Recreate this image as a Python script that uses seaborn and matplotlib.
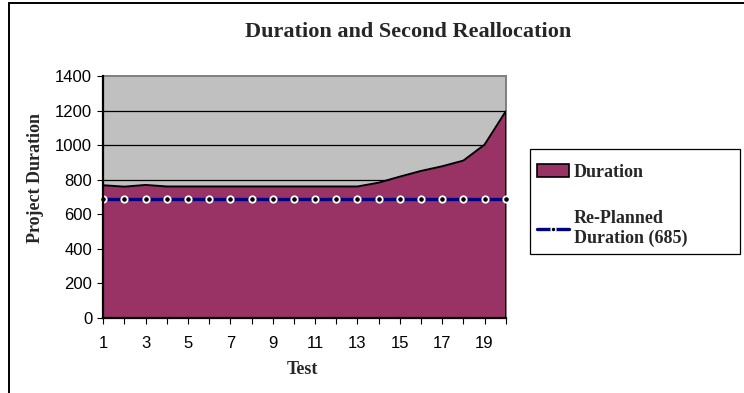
import matplotlib
matplotlib.use("Agg")
import matplotlib.pyplot as plt
from matplotlib.lines import Line2D
from matplotlib.patches import Patch, Rectangle
import seaborn as sns
import pandas as pd

# Series
tests = list(range(1, 21))
duration = [767, 759, 769, 760, 760, 760, 760, 760, 760, 760, 760, 760, 760,
            782, 817, 850, 877, 910, 1002, 1195]
replanned = [685] * 20
yticks = [0, 200, 400, 600, 800, 1000, 1200, 1400]

df = pd.DataFrame({"Test": tests, "Duration": duration, "Replanned": replanned})

sns.set_style("white")
plt.rcParams["font.family"] = ["Liberation Sans", "DejaVu Sans"]

W, H = 744, 393
fig = plt.figure(figsize=(W / 100, H / 100), dpi=100)
ax = fig.add_axes([103.3 / W, 1 - 317.7 / H, (505.7 - 103.3) / W, (317.7 - 76) / H])
ax.set_facecolor("#C0C0C0")

# Horizontal gridlines
for v in yticks[1:-1]:
    ax.axhline(v, color="black", lw=0.9, zorder=1)

# Duration area
ax.fill_between(df["Test"], 0, df["Duration"], color="#993366", lw=0, zorder=2)
sns.lineplot(data=df, x="Test", y="Duration", ax=ax, color="black", lw=1.4, zorder=3)
ax.vlines(tests[-1], 0, duration[-1], color="black", lw=1.4, zorder=3)

# Re-planned duration line with markers
sns.lineplot(data=df, x="Test", y="Replanned", ax=ax, color="#000080", lw=2.4,
             marker="o", markersize=4.6, markerfacecolor="black",
             markeredgecolor="white", markeredgewidth=1.3, zorder=5, clip_on=False)

ax.set_xlim(1, 20)
ax.set_ylim(0, 1400)
ax.set_yticks(yticks)
ax.set_xticks(tests)
ax.set_xticklabels([str(t) if t % 2 == 1 else "" for t in tests])
ax.tick_params(axis="both", direction="out", length=4, width=0.8, color="black",
               labelsize=12, labelcolor="black", bottom=True, left=True)
ax.tick_params(axis="x", pad=9)
ax.tick_params(axis="y", pad=4)
ax.set_xlabel("")
ax.set_ylabel("")

for side in ["left", "bottom"]:
    ax.spines[side].set_color("black")
    ax.spines[side].set_linewidth(1.6)
    ax.spines[side].set_zorder(6)
for side in ["top", "right"]:
    ax.spines[side].set_visible(True)
    ax.spines[side].set_color("#808080")
    ax.spines[side].set_linewidth(1.4)

serif = ["Liberation Serif", "DejaVu Serif"]
fig.text(302 / W, 1 - 370 / H, "Test", family=serif, fontweight="bold",
         fontsize=13, ha="center", va="center")
fig.text(36 / W, 1 - 178 / H, "Project Duration", family=serif, fontweight="bold",
         fontsize=13, ha="center", va="center", rotation=90)
fig.text(408 / W, 1 - 32 / H, "Duration and Second Reallocation", family=serif,
         fontweight="bold", fontsize=16, ha="center", va="center")

# Legend
fig.add_artist(Rectangle((530 / W, 1 - 254 / H), 210 / W, 105 / H, transform=fig.transFigure,
                         facecolor="white", edgecolor="black", lw=0.9, zorder=3))
handles = [
    Patch(facecolor="#993366", edgecolor="black", lw=1.2),
    Line2D([0], [0], color="#000080", lw=2.4, marker="o", markersize=3.5,
           markerfacecolor="black", markeredgecolor="white", markeredgewidth=1.0),
]
leg = fig.legend(handles, ["Duration", "Re-Planned\nDuration (685)"],
                 loc="upper left", bbox_to_anchor=(537 / W, 1 - 164 / H),
                 prop={"family": serif, "weight": "bold", "size": 13},
                 frameon=False, borderpad=0, labelspacing=1.6, handlelength=1.75,
                 handletextpad=0.28, borderaxespad=0)
leg.set_zorder(4)

# Chart frame
fig.add_artist(Line2D([9 / W, 9 / W], [0, 1 - 2.5 / H], color="black", lw=1.4))
fig.add_artist(Line2D([9 / W, 1], [1 - 2.5 / H, 1 - 2.5 / H], color="black", lw=1.4))

fig.savefig("out.png", dpi=100)
